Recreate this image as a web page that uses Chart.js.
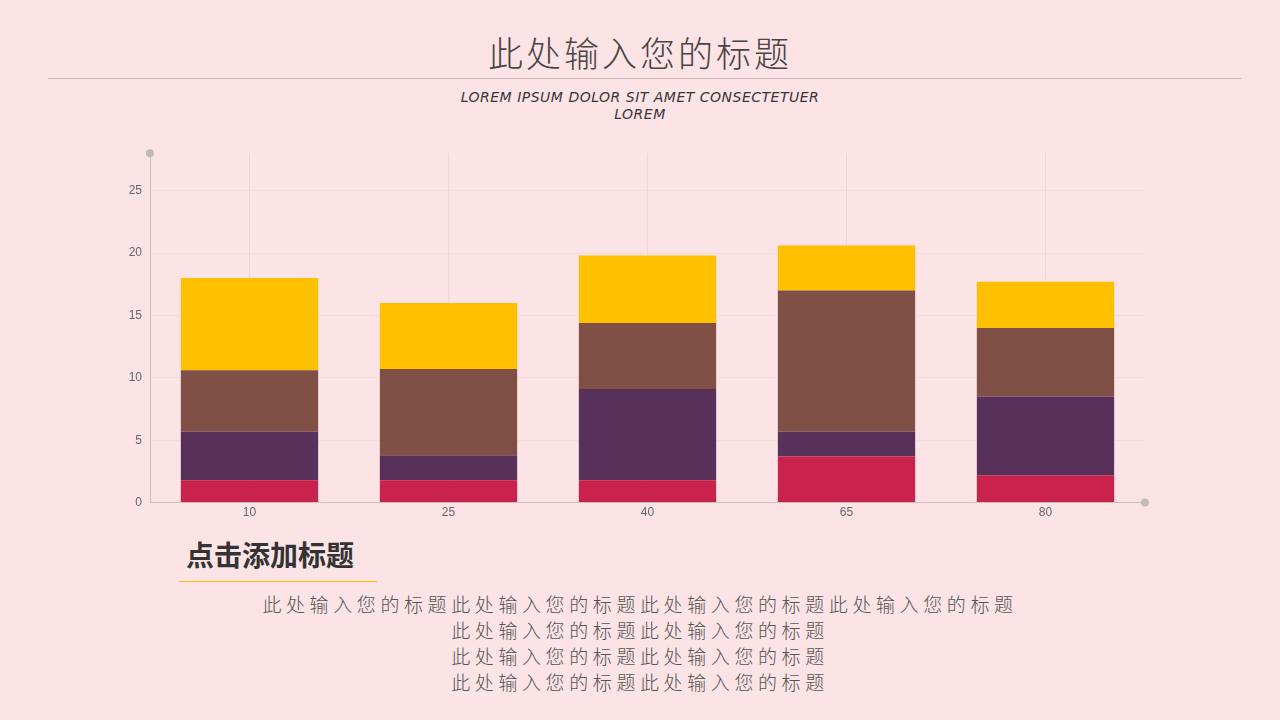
<!DOCTYPE html>
<html><head><meta charset="utf-8">
<script src="https://cdn.jsdelivr.net/npm/chart.js@4"></script>
<style>
body{margin:0;width:1280px;height:720px;background:#fbe3e6;position:relative;overflow:hidden;font-family:"Noto Sans CJK SC",sans-serif;color:#4a4040}
#title{position:absolute;top:26px;width:100%;text-align:center;font-size:35px;letter-spacing:3px;color:#4a4444;font-weight:300}
#rule{position:absolute;left:48px;width:1193px;top:78px;border-top:1px solid #cdb8b8}
#sub{position:absolute;top:89px;width:100%;text-align:center;font-size:14px;line-height:17px;font-style:italic;color:#3a3434;font-family:"DejaVu Sans",sans-serif;letter-spacing:0.5px}
#wrap{position:absolute;left:110px;top:138px;width:1050px;height:385px}
#h2{position:absolute;left:186px;top:534px;font-size:28px;font-weight:bold;color:#333}
#h2line{position:absolute;left:179px;top:581px;width:198px;border-top:1px solid #ffc000}
#body{position:absolute;top:591px;width:100%;text-align:center;font-size:19px;line-height:26px;letter-spacing:4.6px;color:#555;font-weight:300}
</style></head><body>
<div id="title">此处输入您的标题</div>
<div id="rule"></div>
<div id="sub">LOREM IPSUM DOLOR SIT AMET CONSECTETUER<br>LOREM</div>
<div id="wrap"><canvas id="c"></canvas></div>
<div id="h2">点击添加标题</div>
<div id="h2line"></div>
<div id="body">此处输入您的标题此处输入您的标题此处输入您的标题此处输入您的标题<br>此处输入您的标题此处输入您的标题<br>此处输入您的标题此处输入您的标题<br>此处输入您的标题此处输入您的标题</div>
<script>
const categories = ['10', '25', '40', '65', '80'];
const seriesRed = [1.8, 1.8, 1.8, 3.7, 2.2];
const seriesPurple = [3.9, 2.0, 7.3, 2.0, 6.3];
const seriesBrown = [4.9, 6.9, 5.3, 11.3, 5.5];
const seriesYellow = [7.4, 5.3, 5.4, 3.6, 3.7];

// small dots at the ends of the axes
const axisDots = {
  id: 'axisDots',
  afterDraw(chart) {
    const { ctx, chartArea: a } = chart;
    ctx.save();
    ctx.fillStyle = '#bdbdb0';
    [[a.left, a.top], [a.right, a.bottom]].forEach(([x, y]) => {
      ctx.beginPath(); ctx.arc(x, y, 4, 0, Math.PI * 2); ctx.fill();
    });
    ctx.restore();
  }
};

const ds = (data, color) => ({ data, backgroundColor: color, barPercentage: 0.69, categoryPercentage: 1 });

new Chart(document.getElementById('c'), {
  type: 'bar',
  data: {
    labels: categories,
    datasets: [
      ds(seriesRed, '#c9224c'),
      ds(seriesPurple, '#58315a'),
      ds(seriesBrown, '#805046'),
      ds(seriesYellow, '#ffc000')
    ]
  },
  options: {
    responsive: true,
    maintainAspectRatio: false,
    animation: false,
    layout: { padding: { top: 12, right: 15 } },
    plugins: { legend: { display: false }, tooltip: { enabled: false } },
    scales: {
      x: {
        stacked: true,
        ticks: { color: '#666', font: { size: 12 } },
        grid: { color: 'rgba(240,205,210,0.7)', drawTicks: false, offset: false },
        border: { color: '#c8c0b8' }
      },
      y: {
        stacked: true,
        min: 0, max: 28,
        afterBuildTicks: ax => { ax.ticks = [0, 5, 10, 15, 20, 25].map(v => ({ value: v })); },
        afterFit: ax => { ax.width = 40; },
        ticks: { color: '#666', font: { size: 12 }, padding: 8 },
        grid: { color: '#eedede', drawTicks: false },
        border: { color: '#c8c0b8' }
      }
    }
  },
  plugins: [axisDots]
});
</script>
</body></html>
